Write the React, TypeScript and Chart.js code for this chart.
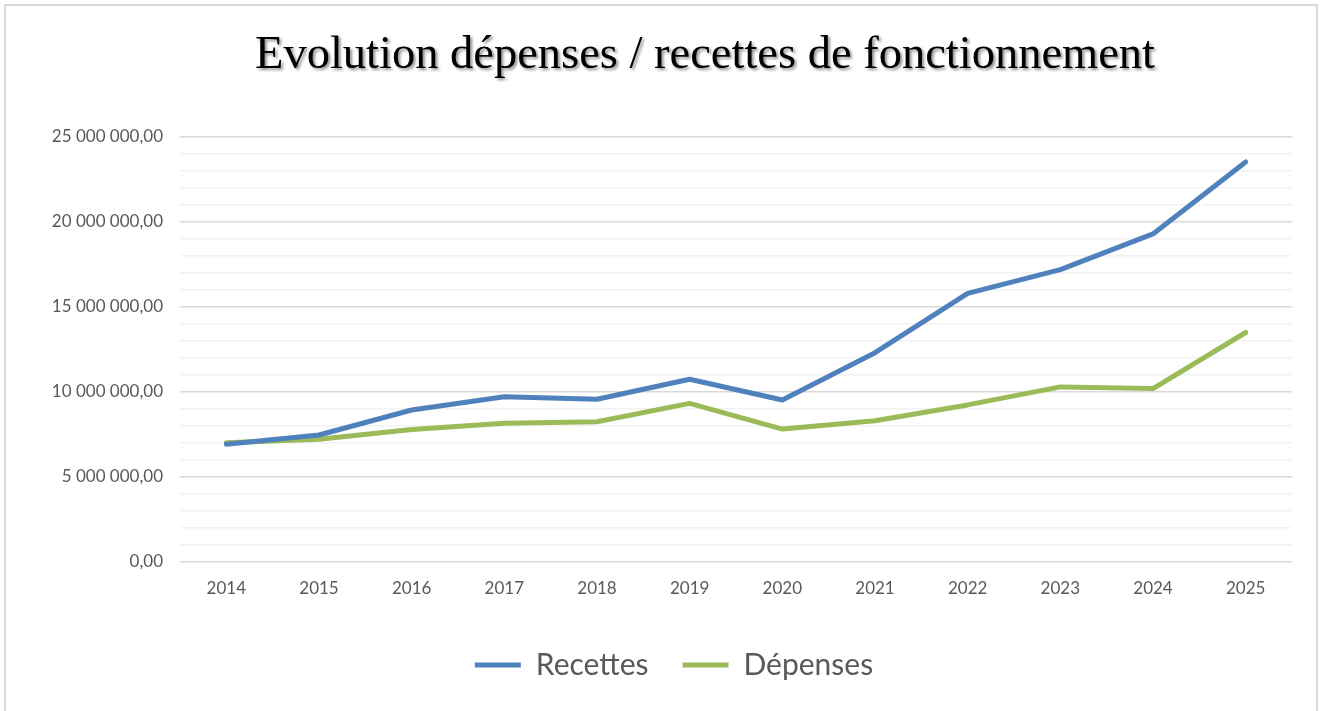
import React, { useEffect, useRef } from "react";
import { Chart, registerables } from "chart.js";

Chart.register(...registerables);

const TITLE = "Evolution dépenses / recettes de fonctionnement";
const YEARS = ["2014", "2015", "2016", "2017", "2018", "2019", "2020", "2021", "2022", "2023", "2024", "2025"];
const RECETTES = [6920000, 7470000, 8940000, 9720000, 9570000, 10750000, 9530000, 12310000, 15800000, 17200000, 19300000, 23530000];
const DEPENSES = [7020000, 7220000, 7800000, 8160000, 8250000, 9330000, 7820000, 8310000, 9240000, 10300000, 10200000, 13500000];

const BLUE = "#4f81bd";
const GREEN = "#9bbb59";
const FONT = "Lato, 'Open Sans', sans-serif";

function formatFr(v: number): string {
  const s = Math.round(v).toString();
  const parts: string[] = [];
  for (let i = s.length; i > 0; i -= 3) {
    parts.unshift(s.substring(Math.max(0, i - 3), i));
  }
  return parts.join(" ") + ",00";
}

const framePlugin = {
  id: "frameAndTitle",
  afterLayout(chart: any) {
    if (chart.legend) {
      chart.legend.left += 56;
    }
  },
  beforeDraw(chart: any) {
    const ctx = chart.ctx;
    ctx.save();
    ctx.fillStyle = "#ffffff";
    ctx.fillRect(0, 0, chart.width, chart.height);
    ctx.strokeStyle = "#d9d9d9";
    ctx.lineWidth = 2;
    ctx.strokeRect(5, 5, 1312, 740);
    ctx.restore();
  },
  afterDraw(chart: any) {
    const ctx = chart.ctx;
    ctx.save();
    ctx.font = "47px 'Liberation Serif', 'DejaVu Serif', serif";
    ctx.textAlign = "center";
    ctx.textBaseline = "alphabetic";
    ctx.fillStyle = "#000000";
    ctx.shadowColor = "rgba(0,0,0,0.45)";
    ctx.shadowOffsetX = 2;
    ctx.shadowOffsetY = 2;
    ctx.shadowBlur = 3;
    ctx.fillText(TITLE, 705, 68, 900);
    ctx.restore();
  },
};

export default function App() {
  const ref = useRef<HTMLCanvasElement | null>(null);

  useEffect(() => {
    if (!ref.current) return;
    const chart = new Chart(ref.current, {
      type: "line",
      data: {
        labels: YEARS,
        datasets: [
          {
            label: "Recettes",
            data: RECETTES,
            borderColor: BLUE,
            backgroundColor: BLUE,
            borderWidth: 5,
            pointRadius: 0,
            borderCapStyle: "round",
            borderJoinStyle: "round",
            tension: 0,
          },
          {
            label: "Dépenses",
            data: DEPENSES,
            borderColor: GREEN,
            backgroundColor: GREEN,
            borderWidth: 5,
            pointRadius: 0,
            borderCapStyle: "round",
            borderJoinStyle: "round",
            tension: 0,
          },
        ],
      },
      options: {
        responsive: true,
        maintainAspectRatio: false,
        animation: false,
        layout: { padding: { left: 0, right: 32, top: 137, bottom: 21 } },
        plugins: {
          title: { display: false },
          tooltip: { enabled: false },
          legend: {
            display: true,
            position: "bottom",
            labels: {
              usePointStyle: true,
              pointStyle: "line",
              pointStyleWidth: 46,
              padding: 34,
              color: "#595959",
              font: { family: FONT, size: 30 },
            },
          },
        },
        scales: {
          x: {
            offset: true,
            grid: { display: false, drawTicks: false },
            border: { display: false },
            ticks: {
              color: "#595959",
              font: { family: FONT, size: 17 },
              padding: 16,
              maxRotation: 0,
            },
            afterFit: (scale: any) => {
              scale.height = 54;
            },
          },
          y: {
            min: 0,
            max: 25000000,
            border: { display: false },
            grid: {
              drawTicks: false,
              lineWidth: 1.5,
              color: (c: any) => (c.tick && c.tick.value % 5000000 === 0 ? "#d9d9d9" : "#f2f2f2"),
            },
            ticks: {
              stepSize: 1000000,
              autoSkip: false,
              color: "#595959",
              font: { family: FONT, size: 17 },
              padding: 17,
              callback: (v: any) => (Number(v) % 5000000 === 0 ? formatFr(Number(v)) : ""),
            },
            afterFit: (scale: any) => {
              scale.width = 180;
            },
          },
        },
      },
      plugins: [framePlugin],
    });
    return () => chart.destroy();
  }, []);

  return (
    <div style={{ position: "fixed", left: 0, top: 0, width: 1324, height: 711 }}>
      <canvas ref={ref} />
    </div>
  );
}
